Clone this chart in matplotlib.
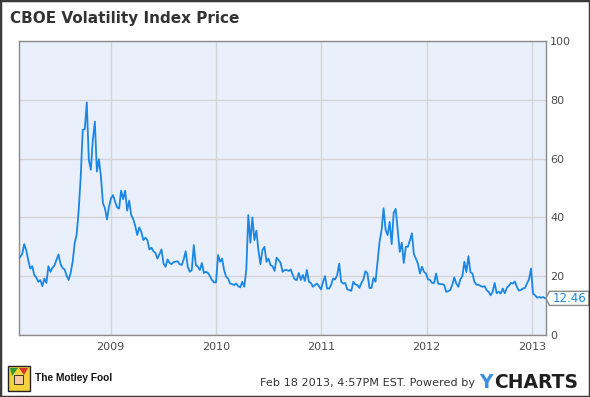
import matplotlib
matplotlib.use('Agg')
import matplotlib.pyplot as plt
import matplotlib.dates as mdates
from matplotlib.patches import Rectangle, Polygon
import pandas as pd

# weekly VIX closes (Feb 2008 - Feb 2013)
vix_2008 = [24.3, 25.5, 26.6, 27.5, 30.9, 28.9, 25.5, 22.6, 23.4, 20.4, 19.6, 18.1, 18.7, 16.6, 19.2,
            17.7, 23.4, 21.5, 22.8, 23.7, 25.5, 27.4, 24.1, 22.8, 22.3, 20.2, 18.7, 21.1, 24.9, 31.2,
            34.3, 42.5, 53.9, 69.8, 70.0, 79.1, 59.6, 56.2, 66.4, 72.6, 55.6, 59.8, 53.9, 44.8, 43.1,
            39.3, 43.6, 46.5, 47.6]
vix_2009 = [45.4, 43.4, 43.0, 49.1, 46.2, 49.1, 42.3, 45.7, 40.8, 39.4, 37.1, 34.0, 36.6, 35.1, 32.3,
            33.1, 32.3, 29.1, 29.7, 28.5, 27.9, 26.0, 27.5, 29.1, 24.3, 23.2, 25.7, 24.5, 24.1, 24.8,
            24.9, 25.1, 24.1, 23.8, 25.7, 28.5, 23.2, 21.5, 22.1, 30.6, 23.8, 23.2, 22.1, 24.5, 21.1,
            21.5, 21.1, 20.0, 18.7, 17.9, 17.9, 27.2, 24.9]
vix_2010 = [26.0, 22.1, 19.8, 19.2, 17.5, 17.3, 17.0, 17.5, 16.6, 16.2, 18.1, 16.4, 22.1, 40.8, 31.4,
            40.0, 32.3, 35.5, 28.9, 24.1, 28.9, 30.0, 24.9, 26.0, 23.8, 23.4, 21.8, 26.3, 25.5, 24.5,
            21.5, 22.1, 22.1, 21.8, 22.3, 20.4, 18.9, 18.7, 21.1, 18.7, 20.4, 18.4, 22.1, 18.1, 17.7,
            16.4, 17.0, 17.5, 16.6, 15.5, 18.1, 20.0]
vix_2011 = [15.8, 15.8, 17.0, 19.2, 18.9, 20.4, 24.3, 18.1, 17.5, 17.7, 15.5, 15.3, 15.0, 18.1, 17.2,
            17.0, 16.0, 17.7, 18.9, 21.7, 21.0, 16.0, 16.0, 19.4, 18.1, 24.9, 31.7, 35.7, 43.1, 35.7,
            34.0, 38.5, 30.9, 41.6, 42.9, 35.7, 28.3, 31.4, 24.5, 30.0, 30.0, 32.1, 34.6, 27.5, 26.0,
            24.3, 20.9, 23.2, 21.5, 20.9, 18.9, 18.7]
vix_2012 = [17.7, 17.7, 20.9, 17.5, 17.3, 17.3, 17.0, 14.7, 14.9, 15.3, 17.1, 19.6, 17.5, 16.4, 18.9,
            20.0, 24.9, 21.4, 26.8, 21.4, 20.9, 18.0, 17.1, 17.1, 16.7, 16.4, 16.6, 15.3, 14.7, 13.5,
            14.7, 17.7, 14.2, 14.7, 14.1, 15.8, 14.2, 16.0, 16.7, 17.7, 17.5, 18.2, 16.4, 15.1, 15.3,
            15.8, 16.0, 17.5, 18.9, 22.6, 14.1, 13.5, 12.7, 12.9, 12.7, 12.9, 12.46]
vix = vix_2008 + vix_2009 + vix_2010 + vix_2011 + vix_2012
last_value = 12.46

years = ['2009', '2010', '2011', '2012', '2013']
y_ticks = [0, 20, 40, 60, 80, 100]

dates = pd.date_range(end='2013-02-15', periods=len(vix), freq='W-FRI')

line_blue = '#1a87e6'
bg_blue = '#eaf0fb'
grid_grey = '#d4d4d4'
spine_grey = '#8a8a8a'
text_grey = '#4a4a4a'

fig = plt.figure(figsize=(5.9, 3.97), dpi=100)
fig.patches.append(Rectangle((0, 0), 1, 1, transform=fig.transFigure, fill=False,
                             edgecolor='#3a3a3a', linewidth=2.5))

ax = fig.add_axes([19 / 590, 1 - 335 / 397, 527 / 590, 294 / 397])
ax.set_facecolor(bg_blue)
ax.plot(dates, vix, color=line_blue, linewidth=1.3, zorder=3)

ax.set_xlim(pd.Timestamp('2008-02-18'), pd.Timestamp('2013-02-18'))
ax.set_ylim(0, 100)
ax.set_xticks([pd.Timestamp(y + '-01-01') for y in years])
ax.set_xticklabels(years)
ax.set_yticks(y_ticks)
ax.yaxis.tick_right()
ax.tick_params(axis='both', length=0, labelsize=8, labelcolor=text_grey)
ax.tick_params(axis='y', pad=3)
ax.tick_params(axis='x', pad=5)
ax.grid(True, color=grid_grey, linewidth=1)
ax.set_axisbelow(True)
for s in ax.spines.values():
    s.set_color(spine_grey)
    s.set_linewidth(1)

# last value callout on the right axis
x0 = 1.0
x1 = 1.0065
x2 = 1.0815
h = 2.4
callout = Polygon([(x0, last_value), (x1, last_value + h), (x2, last_value + h),
                   (x2, last_value - h), (x1, last_value - h)], closed=True,
                  transform=ax.get_yaxis_transform(), facecolor='white',
                  edgecolor=spine_grey, linewidth=1, clip_on=False, zorder=5)
ax.add_patch(callout)
ax.text(1.012, last_value, '%.2f' % last_value, transform=ax.get_yaxis_transform(),
        color=line_blue, fontsize=8.5, va='center', ha='left', zorder=6)

fig.text(10 / 590, 1 - 19 / 397, 'CBOE Volatility Index Price', fontsize=11, fontweight='bold',
         color='#333333', va='center', ha='left')

# footer
fig.patches.append(Rectangle((8 / 590, 1 - 391 / 397), 22 / 590, 25 / 397, transform=fig.transFigure,
                             facecolor='#f3d23a', edgecolor='#222222', linewidth=1))
fig.patches.append(Polygon([(10 / 590, 1 - 368 / 397), (18 / 590, 1 - 368 / 397), (12 / 590, 1 - 376 / 397)],
                           closed=True, transform=fig.transFigure, facecolor='#2a9a3a'))
fig.patches.append(Polygon([(19 / 590, 1 - 368 / 397), (28 / 590, 1 - 368 / 397), (24 / 590, 1 - 375 / 397)],
                           closed=True, transform=fig.transFigure, facecolor='#d8342c'))
fig.patches.append(Rectangle((14 / 590, 1 - 384 / 397), 9 / 590, 9 / 397, transform=fig.transFigure,
                             facecolor='#f6c9a0', edgecolor='#222222', linewidth=0.6))
fig.text(35 / 590, 1 - 378 / 397, 'The Motley Fool', fontsize=7.3, fontweight='bold',
         family='Liberation Sans', color='#111111', va='center', ha='left')

fig.text(475 / 590, 1 - 383 / 397, 'Feb 18 2013, 4:57PM EST. Powered by', fontsize=8.1,
         color='#333333', va='center', ha='right')
fig.text(479 / 590, 1 - 383 / 397, 'Y', fontsize=13.5, fontweight='bold', color='#3b8fe0',
         va='center', ha='left')
fig.text(494 / 590, 1 - 383 / 397, 'CHARTS', fontsize=13.5, fontweight='bold', color='#1f1f1f',
         va='center', ha='left')

fig.savefig('out.png', dpi=100)
